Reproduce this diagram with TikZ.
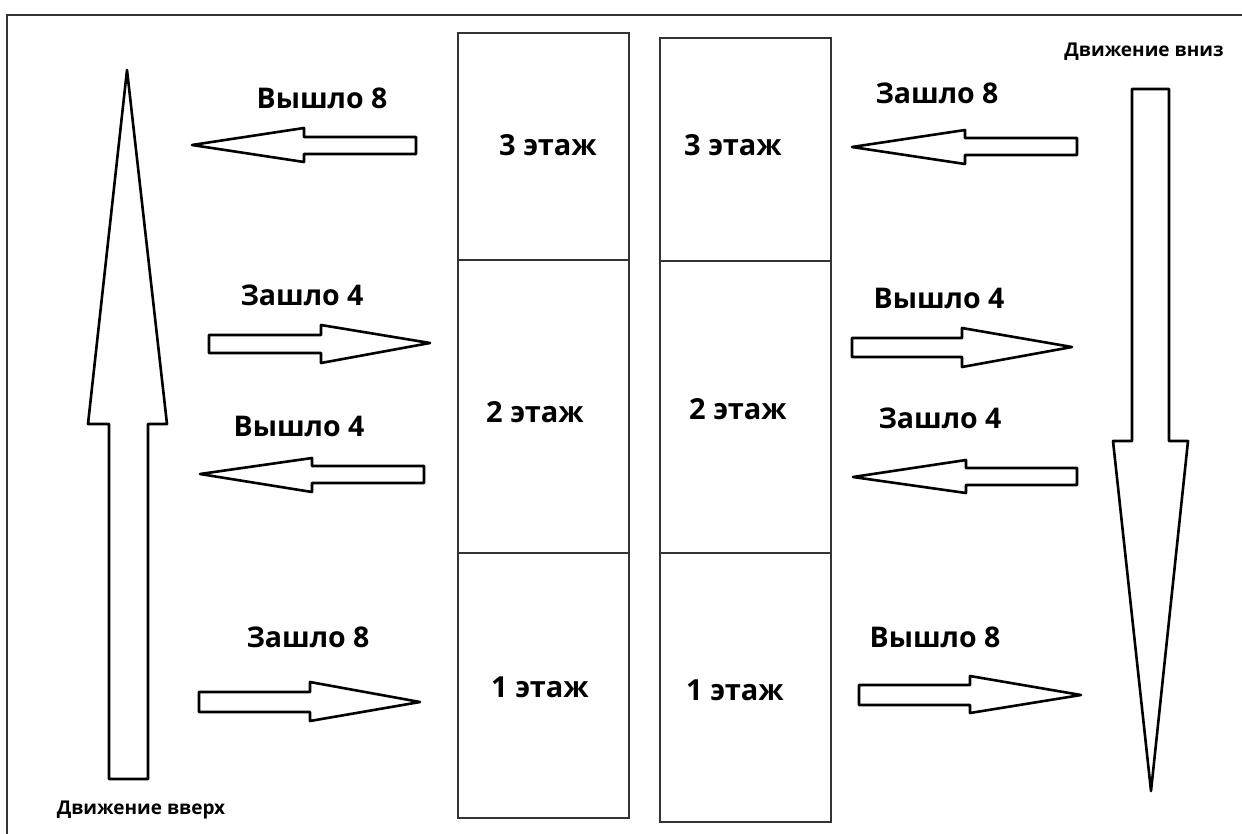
\documentclass[tikz,border=0pt]{standalone}
\usepackage{fontspec}
\setmainfont{Open Sans}
\begin{document}
\begin{tikzpicture}[x=1pt,y=-1pt,
  blk/.style={draw=black,line width=2.6pt,fill=white,line join=round},
  cell/.style={draw=black!80,line width=1.3pt},
  frame/.style={draw=black!80,line width=2pt},
  lbl/.style={font=\fontsize{28.5}{32}\selectfont\bfseries,inner sep=0pt},
  flr/.style={font=\fontsize{29}{33}\selectfont\bfseries,inner sep=0pt},
  dir/.style={font=\fontsize{19}{23}\selectfont\bfseries,inner sep=0pt}]
\useasboundingbox (0,0) rectangle (1242,833);
\fill[white] (0,0) rectangle (1242,833);
% frame
\draw[frame] (7,840) -- (7,15) -- (1250,15);
% floor cells
\draw[cell] (458,33) rectangle (629,260);
\draw[cell] (458,260) rectangle (629,553);
\draw[cell] (458,553) rectangle (629,818);
\draw[cell] (660,38) rectangle (831,261);
\draw[cell] (660,261) rectangle (831,553);
\draw[cell] (660,553) rectangle (831,822);
\node[flr] (l3) at (548,145) {3 этаж};
\node[flr] (l2) at (535,412) {2 этаж};
\node[flr] (l1) at (540,687) {1 этаж};
\node[flr] (r3) at (733,145) {3 этаж};
\node[flr] (r2) at (738,409) {2 этаж};
\node[flr] (r1) at (735,690) {1 этаж};
% big arrows
\draw[blk] (127,70) -- (167,424) -- (148,424) -- (148,779) -- (109,779) -- (109,424) -- (88,424) -- cycle;
\draw[blk] (1132,89) -- (1169,89) -- (1169,441) -- (1188,441) -- (1151,791) -- (1113,441) -- (1132,441) -- cycle;
\node[dir] (up) at (141,810) {Движение вверх};
\node[dir] (down) at (1144,52) {Движение вниз};
% left side small arrows
\draw[blk] (192,145) -- (304,128) -- (304,137) -- (416,137) -- (416,154) -- (304,154) -- (304,162) -- cycle;
\draw[blk] (209,335) -- (321,335) -- (321,325) -- (430,343) -- (321,363) -- (321,353) -- (209,353) -- cycle;
\draw[blk] (200,474) -- (312,458) -- (312,466) -- (424,466) -- (424,483) -- (312,483) -- (312,492) -- cycle;
\draw[blk] (199,692) -- (310,692) -- (310,682) -- (420,702) -- (310,721) -- (310,712) -- (199,712) -- cycle;
% right side small arrows
\draw[blk] (852,147) -- (965,130) -- (965,138) -- (1077,138) -- (1077,155) -- (965,155) -- (965,164) -- cycle;
\draw[blk] (852,338) -- (962,338) -- (962,328) -- (1072,347) -- (962,367) -- (962,357) -- (852,357) -- cycle;
\draw[blk] (853,477) -- (966,460) -- (966,468) -- (1077,468) -- (1077,485) -- (966,485) -- (966,493) -- cycle;
\draw[blk] (859,685) -- (970,685) -- (970,676) -- (1081,695) -- (970,713) -- (970,705) -- (859,705) -- cycle;
% labels
\node[lbl] (t1) at (322,98) {Вышло 8};
\node[lbl] (t2) at (302,295) {Зашло 4};
\node[lbl] (t3) at (299,426) {Вышло 4};
\node[lbl] (t4) at (308,637) {Зашло 8};
\node[lbl] (s1) at (937,93) {Зашло 8};
\node[lbl] (s2) at (939,298) {Вышло 4};
\node[lbl] (s3) at (940,418) {Зашло 4};
\node[lbl] (s4) at (935,637) {Вышло 8};
\end{tikzpicture}
\end{document}
